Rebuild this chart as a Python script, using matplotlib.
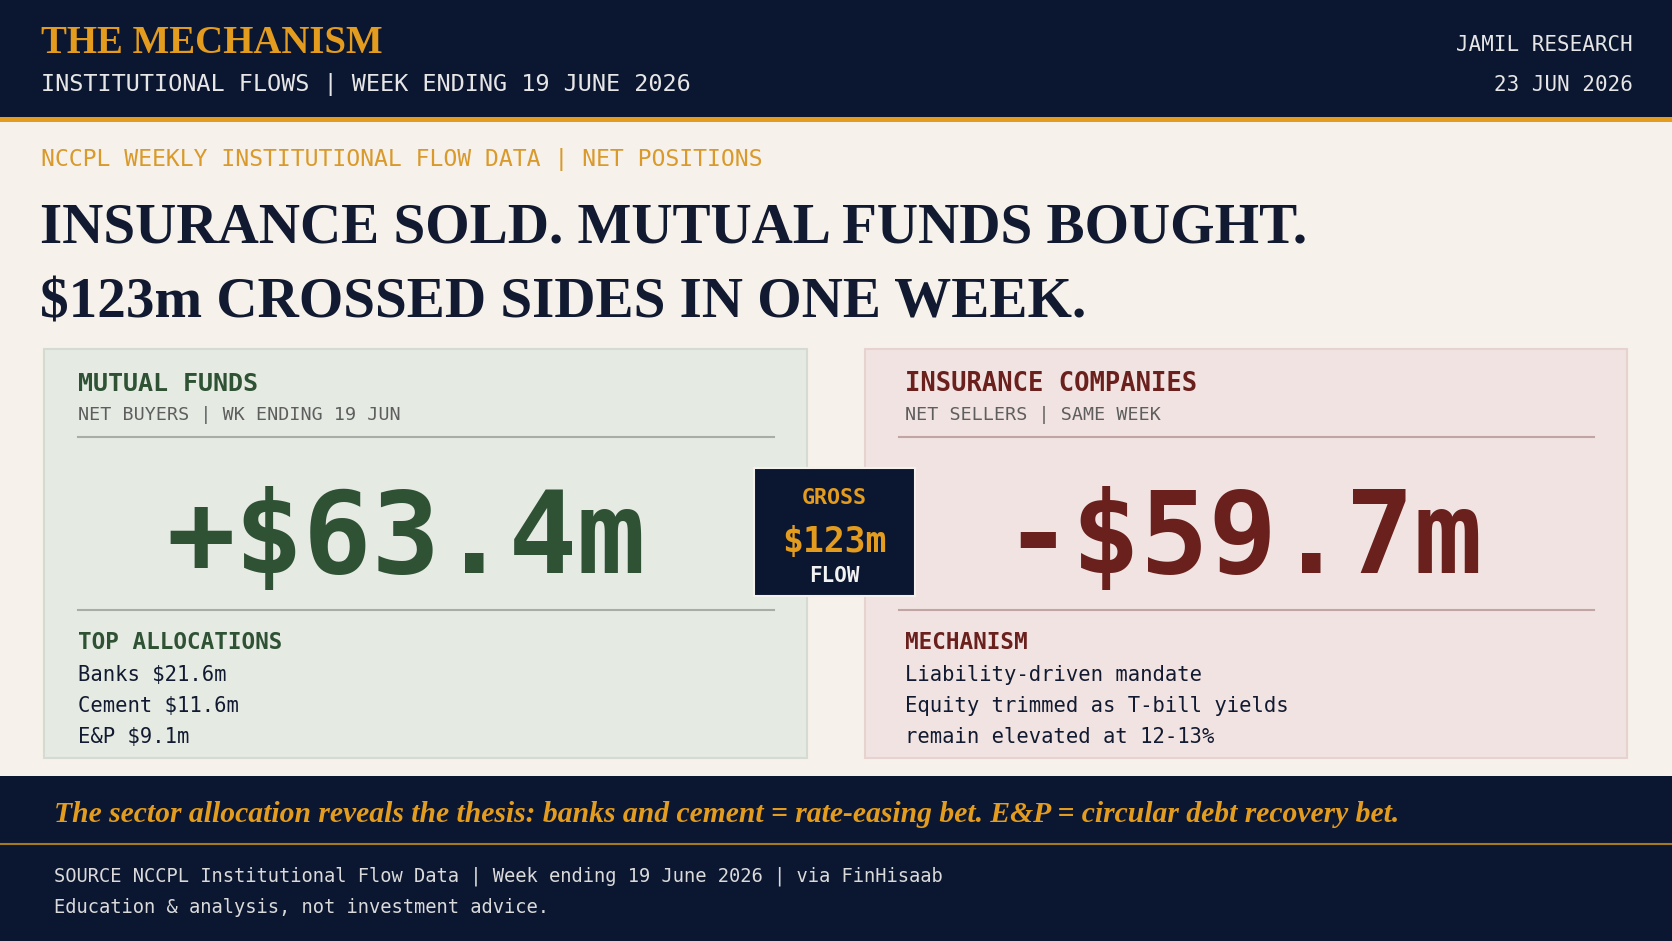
import matplotlib
matplotlib.use('Agg')
from matplotlib import pyplot as plt
from matplotlib.patches import Rectangle


# Данные недели
mf_net = 63.4          # взаимные фонды, $m
ins_net = -59.7        # страховые компании, $m
alloc_sectors = ['Banks', 'Cement', 'E&P']
alloc_values = [21.6, 11.6, 9.1]
mechanism_lines = ['Liability-driven mandate',
                   'Equity trimmed as T-bill yields',
                   'remain elevated at 12-13%']

NAVY = '#0B1631'
GOLD = '#E39C1E'
CREAM = '#F6F1EA'
GREEN = '#2F5234'
RED = '#6A201D'
INK = '#111A30'
GREY = '#5E5E5E'
MONO = 'DejaVu Sans Mono'
SERIF = 'Liberation Serif'

W, H = 1672, 941


def txt(ax, x, y, s, size, color, family=MONO, weight='normal', ha='left', style='normal'):
    ax.text(x, y, s, fontsize=size, color=color, family=family, fontweight=weight,
            ha=ha, va='baseline', fontstyle=style)


def panel(ax, x0, x1, pad, fill, edge, title, title_size, sub, color, value, cx, div, head2, lines):
    ax.add_patch(Rectangle((x0, 349), x1 - x0, 409, facecolor=fill, edgecolor=edge, lw=1.5))
    tx = x0 + pad
    txt(ax, tx, 391, title, title_size, color, weight='bold')
    txt(ax, tx, 420, sub, 13.2, GREY)
    ax.plot([x0 + 34, x1 - 33], [437, 437], color=div, lw=1.5)
    sign = '+' if value > 0 else '-'
    txt(ax, cx, 573, f'{sign}${abs(value):.1f}m', 82, color, weight='bold', ha='center')
    ax.plot([x0 + 34, x1 - 33], [610, 610], color=div, lw=1.5)
    txt(ax, tx, 649, head2, 16.3, color, weight='bold')
    for i, line in enumerate(lines):
        txt(ax, tx, 681 + 31 * i, line, 14.8, INK)


def main():
    fig = plt.figure(figsize=(W / 100, H / 100), dpi=100)
    fig.patch.set_facecolor(CREAM)
    ax = fig.add_axes([0, 0, 1, 1])
    ax.set_xlim(0, W)
    ax.set_ylim(H, 0)
    ax.axis('off')

    # шапка
    ax.add_patch(Rectangle((0, 0), W, 117, facecolor=NAVY, lw=0))
    ax.add_patch(Rectangle((0, 117), W, 5, facecolor=GOLD, lw=0))
    txt(ax, 41, 53, 'THE MECHANISM', 28, GOLD, family=SERIF, weight='bold')
    txt(ax, 41, 91, 'INSTITUTIONAL FLOWS | WEEK ENDING 19 JUNE 2026', 16.9, '#E6E6E6')
    txt(ax, 1633, 51, 'JAMIL RESEARCH', 15, '#E6E6E6', ha='right')
    txt(ax, 1633, 91, '23 JUN 2026', 15, '#E6E6E6', ha='right')

    # заголовок
    txt(ax, 41, 166, 'NCCPL WEEKLY INSTITUTIONAL FLOW DATA | NET POSITIONS', 16.7, '#D99A2B')
    txt(ax, 40, 242, 'INSURANCE SOLD. MUTUAL FUNDS BOUGHT.', 41.1, INK, family=SERIF, weight='bold')
    txt(ax, 40, 317, '$123m CROSSED SIDES IN ONE WEEK.', 41.1, INK, family=SERIF, weight='bold')

    # панели
    allocs = [f'{s} ${v:.1f}m' for s, v in zip(alloc_sectors, alloc_values)]
    panel(ax, 44, 807, 34, '#E5EAE3', '#D5DBD2', 'MUTUAL FUNDS', 18, 'NET BUYERS | WK ENDING 19 JUN',
          GREEN, mf_net, 406, '#A9ADA6', 'TOP ALLOCATIONS', allocs)
    panel(ax, 865, 1627, 40, '#F1E3E1', '#E6D3D0', 'INSURANCE COMPANIES', 18.4, 'NET SELLERS | SAME WEEK',
          RED, ins_net, 1243, '#C2A5A3', 'MECHANISM', mechanism_lines)

    # центральный блок
    ax.add_patch(Rectangle((754, 468), 161, 128, facecolor=NAVY, edgecolor='#F4F1EC', lw=1.5))
    gross = abs(mf_net) + abs(ins_net)
    txt(ax, 834.5, 504, 'GROSS', 15.6, GOLD, weight='bold', ha='center')
    txt(ax, 834.5, 552, f'${gross:.0f}m', 25, GOLD, weight='bold', ha='center')
    txt(ax, 834.5, 582, 'FLOW', 15, '#F2F2F2', weight='bold', ha='center')

    # подвал
    ax.add_patch(Rectangle((0, 776), W, H - 776, facecolor=NAVY, lw=0))
    txt(ax, 54, 822, 'The sector allocation reveals the thesis: banks and cement = rate-easing bet. '
        'E&P = circular debt recovery bet.', 21.3, GOLD, family=SERIF, weight='bold', style='italic')
    ax.plot([0, W], [844, 844], color='#A57A1E', lw=1.5)
    txt(ax, 54, 882, 'SOURCE NCCPL Institutional Flow Data | Week ending 19 June 2026 | via FinHisaab',
        13.5, '#DADADA')
    txt(ax, 54, 913, 'Education & analysis, not investment advice.', 13.5, '#DADADA')

    fig.savefig('out.png', dpi=100, facecolor=CREAM)


if __name__ == '__main__':
    main()
